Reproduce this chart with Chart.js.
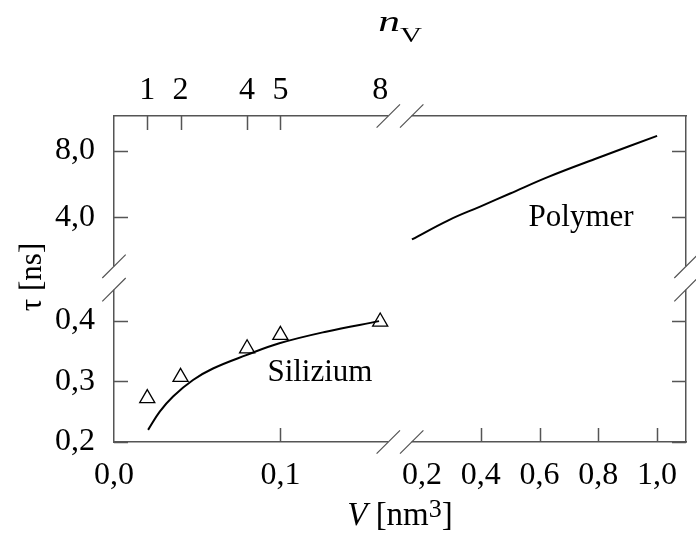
<!DOCTYPE html>
<html>
<head>
<meta charset="utf-8">
<script src="https://cdn.jsdelivr.net/npm/chart.js@4/dist/chart.umd.min.js"></script>
<style>
  html, body { margin: 0; padding: 0; background: #fff; }
  canvas { display: block; }
</style>
</head>
<body>
<canvas id="chart" width="696" height="533"></canvas>
<script>
// Silizium: measured points (triangles) and fitted curve
const siliconPointV = [0.02, 0.04, 0.08, 0.10, 0.16];
const siliconPointTau = [0.272, 0.307, 0.354, 0.376, 0.398];
const siliconFitV = [0.0205, 0.0275, 0.0355, 0.0475, 0.0595, 0.0795, 0.0994, 0.1274, 0.1593];
const siliconFitTau = [0.220, 0.250, 0.275, 0.302, 0.321, 0.343, 0.3625, 0.3816, 0.399];

// Polymer curve
const polymerV = [0.166, 0.29, 0.40, 0.50, 0.63, 0.80, 1.00];
const polymerTau = [2.67, 3.82, 4.66, 5.43, 6.43, 7.58, 8.89];

// tick labels
const nVTicks = [1, 2, 4, 5, 8];
const vTicksLeft = [0.0, 0.1];
const vTicksRight = [0.2, 0.4, 0.6, 0.8, 1.0];
const tauTicksLow = [0.2, 0.3, 0.4];
const tauTicksHigh = [4.0, 8.0];

// text labels inside the plot
const curveNames = ['Silizium', 'Polymer'];

const serif = "'Liberation Serif', 'Times New Roman', serif";
const comma = v => v.toFixed(1).replace('.', ',');
const toXY = (xs, ys) => xs.map((x, i) => ({ x: x, y: ys[i] }));
const useTicks = values => scale => { scale.ticks = values.map(v => ({ value: v })); };

function axis(position, stack, weight, min, max, tickValues, opts) {
  return {
    type: 'linear',
    position: position,
    stack: stack,
    stackWeight: weight,
    min: min,
    max: max,
    bounds: 'data',
    grid: { display: false, drawTicks: false },
    border: { display: true, color: '#555', width: 1.5 },
    ticks: {
      display: opts.labels !== false,
      color: '#000',
      font: { family: serif, size: 32 },
      autoSkip: false,
      maxRotation: 0,
      padding: opts.padding || 0,
      callback: opts.format || comma
    },
    afterBuildTicks: useTicks(tickValues),
    afterFit: opts.fit
  };
}

// force the box sizes so the plot area lands where the original has it
const fitW = w => s => { s.width = w; s.paddingTop = 0; s.paddingBottom = 0; s.paddingLeft = 0; s.paddingRight = 0; };
const fitH = h => s => { s.height = h; s.paddingTop = 0; s.paddingBottom = 0; s.paddingLeft = 0; s.paddingRight = 0; };

// inward tick marks, axis breaks and texts
const decorations = {
  id: 'decorations',
  afterDraw(chart) {
    const ctx = chart.ctx;
    const s = chart.scales;
    const a = chart.chartArea;
    const L = 14;
    ctx.save();
    ctx.strokeStyle = '#555';
    ctx.lineWidth = 1.5;

    const mark = (id, skip, draw) => {
      const sc = s[id];
      sc.ticks.forEach(t => {
        if (skip.indexOf(t.value) >= 0) return;
        draw(sc, Math.round(sc.getPixelForValue(t.value)) + 0.5);
      });
    };
    ctx.beginPath();
    mark('xL', [0], (sc, p) => { ctx.moveTo(p, sc.top); ctx.lineTo(p, sc.top - L); });
    mark('xR', [0.2], (sc, p) => { ctx.moveTo(p, sc.top); ctx.lineTo(p, sc.top - L); });
    mark('xTL', [8], (sc, p) => { ctx.moveTo(p, sc.bottom); ctx.lineTo(p, sc.bottom + L); });
    ['yLow', 'yHigh'].forEach(id => mark(id, [], (sc, p) => { ctx.moveTo(sc.right, p); ctx.lineTo(sc.right + L, p); }));
    ['yRLow', 'yRHigh'].forEach(id => mark(id, [], (sc, p) => { ctx.moveTo(sc.left, p); ctx.lineTo(sc.left - L, p); }));
    ctx.stroke();

    // axis breaks
    const bx = s.xL.right, by = s.yHigh.bottom, d = 11.7, h = 11.7;
    ctx.fillStyle = '#fff';
    ctx.fillRect(bx - d, a.top - 2, 2 * d, 4);
    ctx.fillRect(bx - d, a.bottom - 2, 2 * d, 4);
    ctx.fillRect(a.left - 2, by - d, 4, 2 * d);
    ctx.fillRect(a.right - 2, by - d, 4, 2 * d);
    ctx.lineWidth = 1.2;
    const slash = (cx, cy) => { ctx.moveTo(cx - h, cy + h); ctx.lineTo(cx + h, cy - h); };
    ctx.beginPath();
    [bx - d, bx + d].forEach(cx => { slash(cx, a.top); slash(cx, a.bottom); });
    [by - d, by + d].forEach(cy => { slash(a.left, cy); slash(a.right, cy); });
    ctx.stroke();

    // curve names
    ctx.fillStyle = '#000';
    ctx.font = '31px ' + serif;
    ctx.textAlign = 'left';
    ctx.textBaseline = 'alphabetic';
    ctx.fillText(curveNames[0], s.xL.getPixelForValue(0.0922), s.yLow.getPixelForValue(0.301));
    ctx.fillText(curveNames[1], s.xR.getPixelForValue(0.5627), s.yHigh.getPixelForValue(3.5));

    const cx = (a.left + a.right) / 2;
    // top title n_V (the original glyphs are drawn wide)
    ctx.save();
    ctx.translate(cx, 0);
    ctx.scale(1.45, 1);
    ctx.font = 'italic 30px ' + serif;
    const wn = ctx.measureText('n').width;
    ctx.font = '21px ' + serif;
    const wv = ctx.measureText('V').width;
    const x0 = -(wn + wv) / 2;
    ctx.font = 'italic 30px ' + serif;
    ctx.fillText('n', x0, 31);
    ctx.font = '21px ' + serif;
    ctx.fillText('V', x0 + wn, 42);
    ctx.restore();

    // bottom title V [nm3]
    const parts = [['V', 'italic 33px ', 0], [' [nm', '33px ', 0], ['3', '26px ', -8], [']', '33px ', 0]];
    let total = 0;
    parts.forEach(p => { ctx.font = p[1] + serif; total += ctx.measureText(p[0]).width; });
    let x = cx - total / 2;
    parts.forEach(p => {
      ctx.font = p[1] + serif;
      ctx.fillText(p[0], x, 525 + p[2]);
      x += ctx.measureText(p[0]).width;
    });

    // left title
    ctx.translate(41, 277);
    ctx.rotate(-Math.PI / 2);
    ctx.font = '31px ' + serif;
    ctx.textAlign = 'center';
    ctx.fillText('τ [ns]', 0, 0);
    ctx.restore();
  }
};

new Chart(document.getElementById('chart'), {
  type: 'scatter',
  data: {
    datasets: [
      {
        label: 'Silizium (Fit)',
        data: toXY(siliconFitV, siliconFitTau),
        xAxisID: 'xL',
        yAxisID: 'yLow',
        showLine: true,
        borderColor: '#000',
        borderWidth: 2,
        pointRadius: 0,
        tension: 0.4
      },
      {
        label: 'Silizium',
        data: toXY(siliconPointV, siliconPointTau),
        xAxisID: 'xL',
        yAxisID: 'yLow',
        showLine: false,
        pointStyle: 'triangle',
        pointRadius: 8.7,
        pointBorderWidth: 1.3,
        pointBorderColor: '#000',
        pointBackgroundColor: 'rgba(0,0,0,0)'
      },
      {
        label: 'Polymer',
        data: toXY(polymerV, polymerTau),
        xAxisID: 'xR',
        yAxisID: 'yHigh',
        showLine: true,
        borderColor: '#000',
        borderWidth: 2,
        pointRadius: 0,
        tension: 0.4
      }
    ]
  },
  options: {
    responsive: false,
    animation: false,
    devicePixelRatio: 1,
    layout: { padding: { left: 0, right: 8, top: 0, bottom: 0 } },
    plugins: { legend: { display: false }, title: { display: false }, tooltip: { enabled: false } },
    scales: {
      xL: axis('bottom', 'xb', 1, 0, 0.1719, vTicksLeft, { padding: 14, fit: fitH(91) }),
      xR: axis('bottom', 'xb', 1, 0.1254, 1.0983, vTicksRight, { padding: 14, fit: fitH(91) }),
      yLow: axis('left', 'yl', 164, 0.2, 0.47, tauTicksLow, { padding: 19, fit: fitW(114) }),
      yHigh: axis('left', 'yl', 162, 0.354, 10.084, tauTicksHigh, { padding: 19, fit: fitW(114) }),
      xTR: axis('top', 'xt', 1, 0.1254, 1.0983, [], { labels: false, fit: fitH(116) }),
      xTL: axis('top', 'xt', 1, 0, 0.1719 / 0.02, nVTicks, { padding: 6, format: v => String(v), fit: fitH(116) }),
      yRHigh: axis('right', 'yr', 162, 0.354, 10.084, tauTicksHigh, { labels: false, fit: fitW(0) }),
      yRLow: axis('right', 'yr', 164, 0.2, 0.47, tauTicksLow, { labels: false, fit: fitW(0) })
    }
  },
  plugins: [decorations]
});
</script>
</body>
</html>
